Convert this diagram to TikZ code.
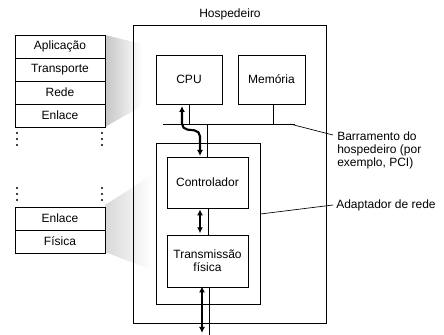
\documentclass[tikz,border=0pt]{standalone}
\usepackage{fontspec}
\setmainfont{Liberation Sans}
\usetikzlibrary{arrows.meta}
\begin{document}
\begin{tikzpicture}[x=0.75pt,y=-0.75pt,
  every node/.style={font=\fontsize{9}{10}\selectfont, inner sep=0pt},
  box/.style={draw, line width=0.6pt, rectangle},
  layer/.style={box, minimum width=67.5pt, minimum height=17.25pt},
  thin/.style={line width=0.6pt},
  fat/.style={line width=1.6pt, {Latex[length=4.5pt,width=4.5pt]}-{Latex[length=4.5pt,width=4.5pt]}},
  dot/.style={circle, fill, inner sep=0pt, minimum size=1.8pt},
  leader/.style={line width=0.5pt}]
\useasboundingbox (0,0) rectangle (444,335);
% shadings
\shade[left color=gray!45, right color=white] (105,35) -- (105,127) -- (142,106) -- (142,44) -- cycle;
\shade[left color=gray!30, middle color=gray!50, right color=white] (105,205) -- (105,252) -- (152,270) -- (152,175) -- cycle;
% left stacks
\node[layer] (apl) at (60,46.5) {Aplicação};
\node[layer] (tra) at (60,69.5) {Transporte};
\node[layer] (red) at (60,92.5) {Rede};
\node[layer] (enl) at (60,115.5) {Enlace};
\node[layer] (enl2) at (60,218.5) {Enlace};
\node[layer] (fis) at (60,241.5) {Física};
\foreach \y [count=\i] in {133,139,145,188,194,200}{
  \node[dot] (dl\i) at (17,\y) {};
  \node[dot] (dr\i) at (102,\y) {};
}
% host
\node[box, minimum width=144.75pt, minimum height=223.5pt] (host) at (229.5,174) {};
\node (hosttitle) at (230,14) {Hospedeiro};
\node[box, minimum width=49.5pt, minimum height=36.75pt] (cpu) at (189,79.5) {CPU};
\node[box, minimum width=50.25pt, minimum height=36.75pt] (mem) at (271.5,79.5) {Memória};
% bus
\coordinate (busL) at (163,124);
\coordinate (busR) at (295,124);
\draw[thin] (busL) -- (busR);
\draw[thin] (cpu.south -| 189,0) -- (189,124);
\draw[thin] (mem.south -| 273,0) -- (273,124);
% adapter
\node[box, minimum width=78pt, minimum height=120.75pt] (adp) at (208,223.5) {};
\node[box, minimum width=60.75pt, minimum height=38.25pt] (ctl) at (207.5,182.5) {Controlador};
\node[box, minimum width=60.75pt, minimum height=39pt, align=center] (tx) at (207.5,261) {Transmissão\\física};
\draw[thin] (207,124) -- (ctl.north -| 207,0);
\draw[thin] (ctl.south -| 208,0) -- (tx.north -| 208,0);
\draw[thin] (tx.south -| 209,0) -- (209,335);
% thick arrows
\draw[fat, rounded corners=4pt] (182,106) -- (182,129) -- (200,131) -- (200,156);
\draw[fat] (ctl.south -| 200,0) ++(0,1) -- ([yshift=1pt]tx.north -| 200,0);
\draw[fat] (tx.south -| 202,0) ++(0,-1) -- (202,333);
% leaders and labels
\node[anchor=west, align=left] (buslab) at (337,150.5) {Barramento do\\hospedeiro (por\\exemplo, PCI)};
\coordinate (busend) at (333,135);
\draw[leader] (290,124) -- (busend);
\node[anchor=west] (adplab) at (336,205) {Adaptador de rede};
\coordinate (adpend) at (333,205);
\draw[leader] (adp.east |- 0,214) -- (adpend);
\end{tikzpicture}
\end{document}
